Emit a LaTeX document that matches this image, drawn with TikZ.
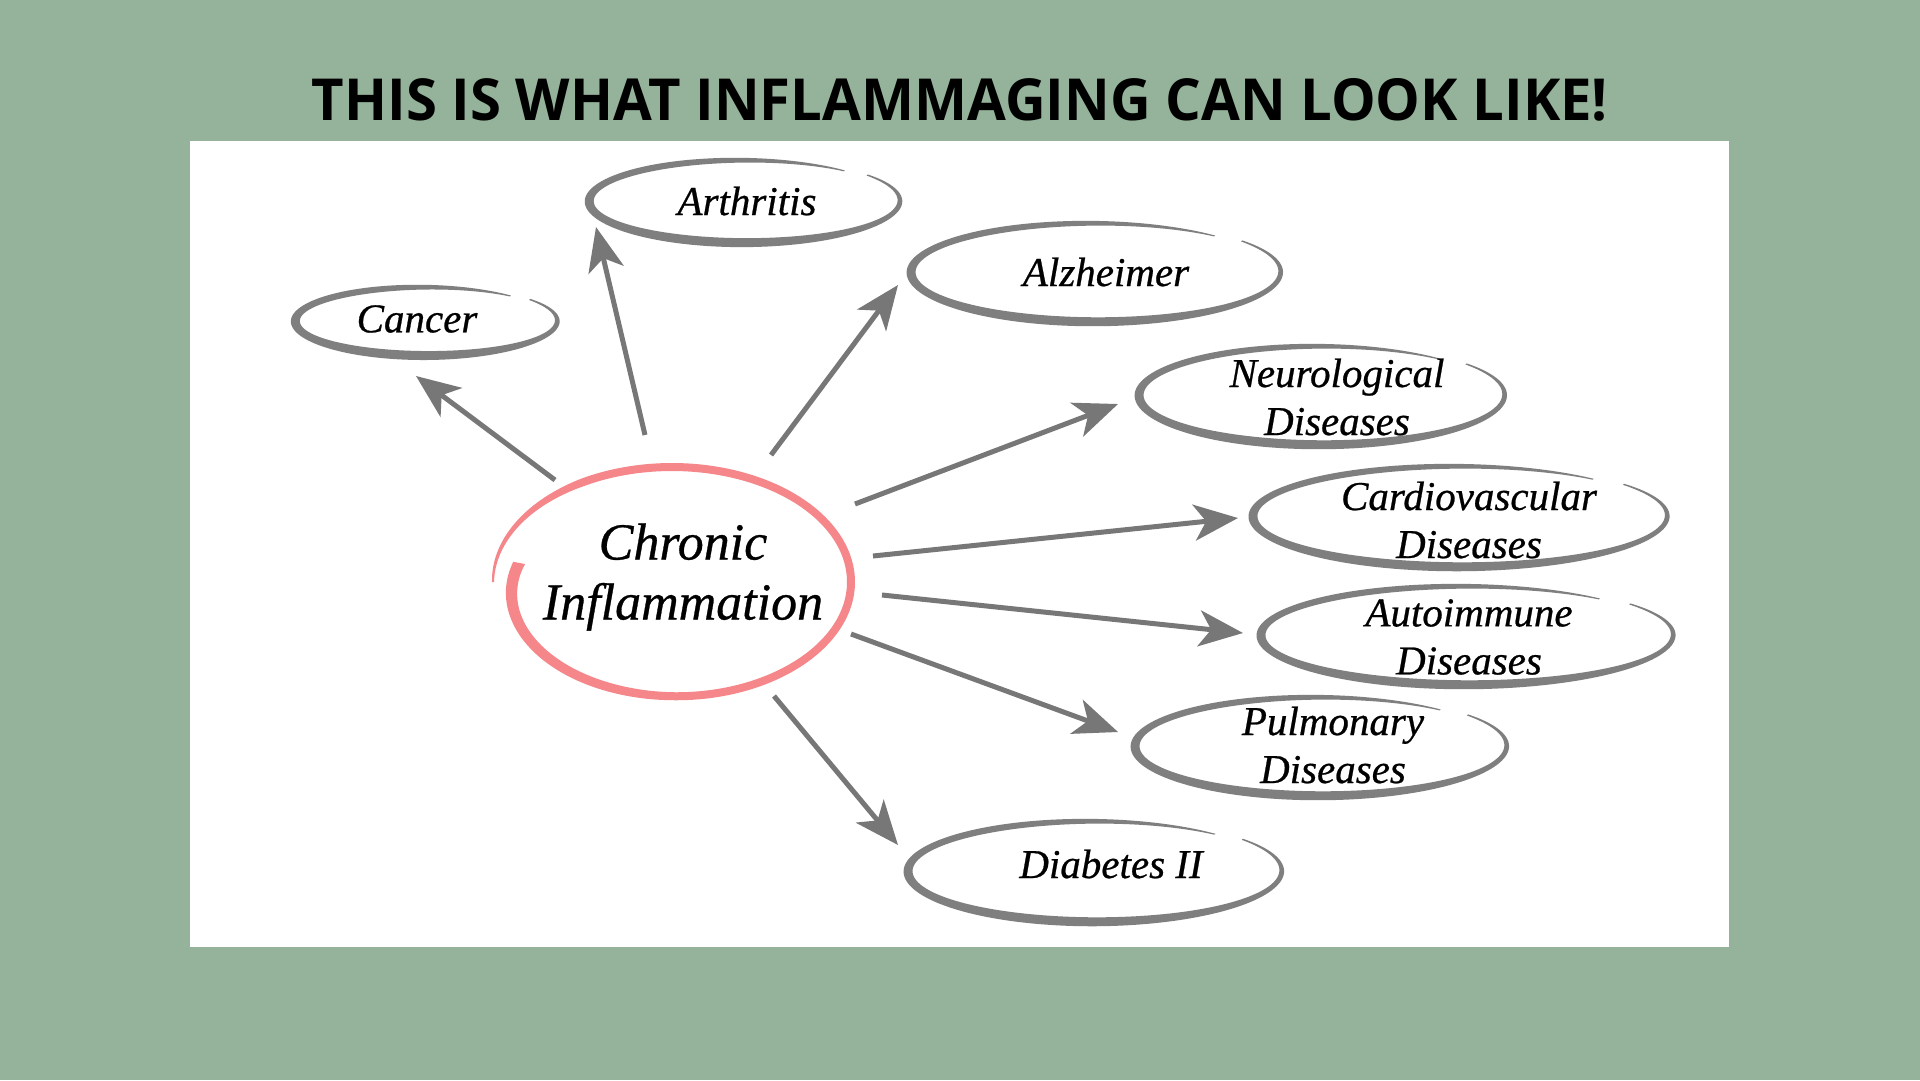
\documentclass[tikz,border=0pt]{standalone}
\usepackage{fontspec}
\setmainfont{Liberation Serif}
\newfontfamily\lblfont{Liberation Serif}[ItalicFeatures={FakeBold=0.6}]
\newfontfamily\titlefont{Open Sans}
\usetikzlibrary{arrows.meta}
\definecolor{bggreen}{HTML}{94B39A}
\definecolor{strokegray}{HTML}{7F7F7F}
\definecolor{arrowgray}{HTML}{777777}
\definecolor{pinkline}{HTML}{F5878A}
\newcommand\graybrush[4]{%
  \fill[strokegray] plot[domain=-38:312,samples=150,smooth,variable=\t]
    ({#1+(#3*brr(\t)+brw(\t)/2)*cos(\t)},{#2+(#4*brr(\t)+brw(\t)/2)*sin(\t)})
    -- plot[domain=312:-38,samples=150,smooth,variable=\t]
    ({#1+(#3*brr(\t)-brw(\t)/2)*cos(\t)},{#2+(#4*brr(\t)-brw(\t)/2)*sin(\t)}) -- cycle;}
\begin{document}
\begin{tikzpicture}[x=1pt,y=-1pt,
  lbl/.style={font=\fontsize{41}{48}\selectfont\lblfont\itshape, align=center, inner sep=0pt},
  mainlbl/.style={font=\fontsize{52}{60}\selectfont\lblfont\itshape, align=center, inner sep=0pt},
  conn/.style={draw=arrowgray, line width=5pt, -{Stealth[length=44pt,width=36pt,inset=12pt]}},
  declare function={
    brw(\t)=1+8.5*max(0,1-((\t-135)/180)*((\t-135)/180));
    brr(\t)=1.03-0.04*(\t+38)/350;
    pkw(\t)=min(8,2+(\t-180)/10)+4*max(0,(\t-450)/101);
    pkr(\t)=1-0.13*max(0,(\t-420)/131)*max(0,(\t-420)/131);
  }]
\useasboundingbox (0,0) rectangle (1920,1080);
\fill[bggreen] (0,0) rectangle (1920,1080);
\fill[white] (190,141) rectangle (1729,947);

% title
\node[inner sep=0pt] (title) at (960,100)
  {\resizebox{1296pt}{42pt}{\titlefont\bfseries THIS IS WHAT INFLAMMAGING CAN LOOK LIKE!}};

% central node
\node[mainlbl] (chronic) at (683,577) {Chronic\\Inflammation};
\fill[pinkline] plot[domain=180:551,samples=200,smooth,variable=\t]
    ({672+(179*pkr(\t)+pkw(\t)/2)*cos(\t)},{582+(115*pkr(\t)+pkw(\t)/2)*sin(\t)})
    -- plot[domain=551:180,samples=200,smooth,variable=\t]
    ({672+(179*pkr(\t)-pkw(\t)/2)*cos(\t)},{582+(115*pkr(\t)-pkw(\t)/2)*sin(\t)}) -- cycle;

% outer ellipses
\graybrush{743}{201}{153}{41}
\graybrush{425}{321}{129}{34}
\graybrush{1094}{272}{182}{49}
\graybrush{1320}{395}{180}{49}
\graybrush{1458}{516}{204}{50}
\graybrush{1465}{635}{203}{49}
\graybrush{1319}{746}{183}{49}
\graybrush{1093}{871}{184}{50}

% labels
\node[lbl] (arthritis) at (747,201) {Arthritis};
\node[lbl] (cancer) at (417,319) {Cancer};
\node[lbl] (alzheimer) at (1106,272) {Alzheimer};
\node[lbl] (neuro) at (1337,397) {Neurological\\Diseases};
\node[lbl] (cardio) at (1469,520) {Cardiovascular\\Diseases};
\node[lbl] (autoimm) at (1469,637) {Autoimmune\\Diseases};
\node[lbl] (pulm) at (1333,745) {Pulmonary\\Diseases};
\node[lbl] (diabetes) at (1111,864) {Diabetes II};

% arrow end points
\coordinate (sCancer) at (555,480);   \coordinate (eCancer) at (416,376);
\coordinate (sArth) at (645,435);     \coordinate (eArth) at (596,227);
\coordinate (sAlz) at (771,455);      \coordinate (eAlz) at (898,285);
\coordinate (sNeuro) at (855,504);    \coordinate (eNeuro) at (1118,404);
\coordinate (sCardio) at (873,556);   \coordinate (eCardio) at (1238,518);
\coordinate (sAuto) at (882,595);     \coordinate (eAuto) at (1243,633);
\coordinate (sPulm) at (851,634);     \coordinate (ePulm) at (1118,732);
\coordinate (sDiab) at (774,696);     \coordinate (eDiab) at (898,845);

\draw[conn] (sCancer) -- (eCancer);
\draw[conn] (sArth) -- (eArth);
\draw[conn] (sAlz) -- (eAlz);
\draw[conn] (sNeuro) -- (eNeuro);
\draw[conn] (sCardio) -- (eCardio);
\draw[conn] (sAuto) -- (eAuto);
\draw[conn] (sPulm) -- (ePulm);
\draw[conn] (sDiab) -- (eDiab);
\end{tikzpicture}
\end{document}
